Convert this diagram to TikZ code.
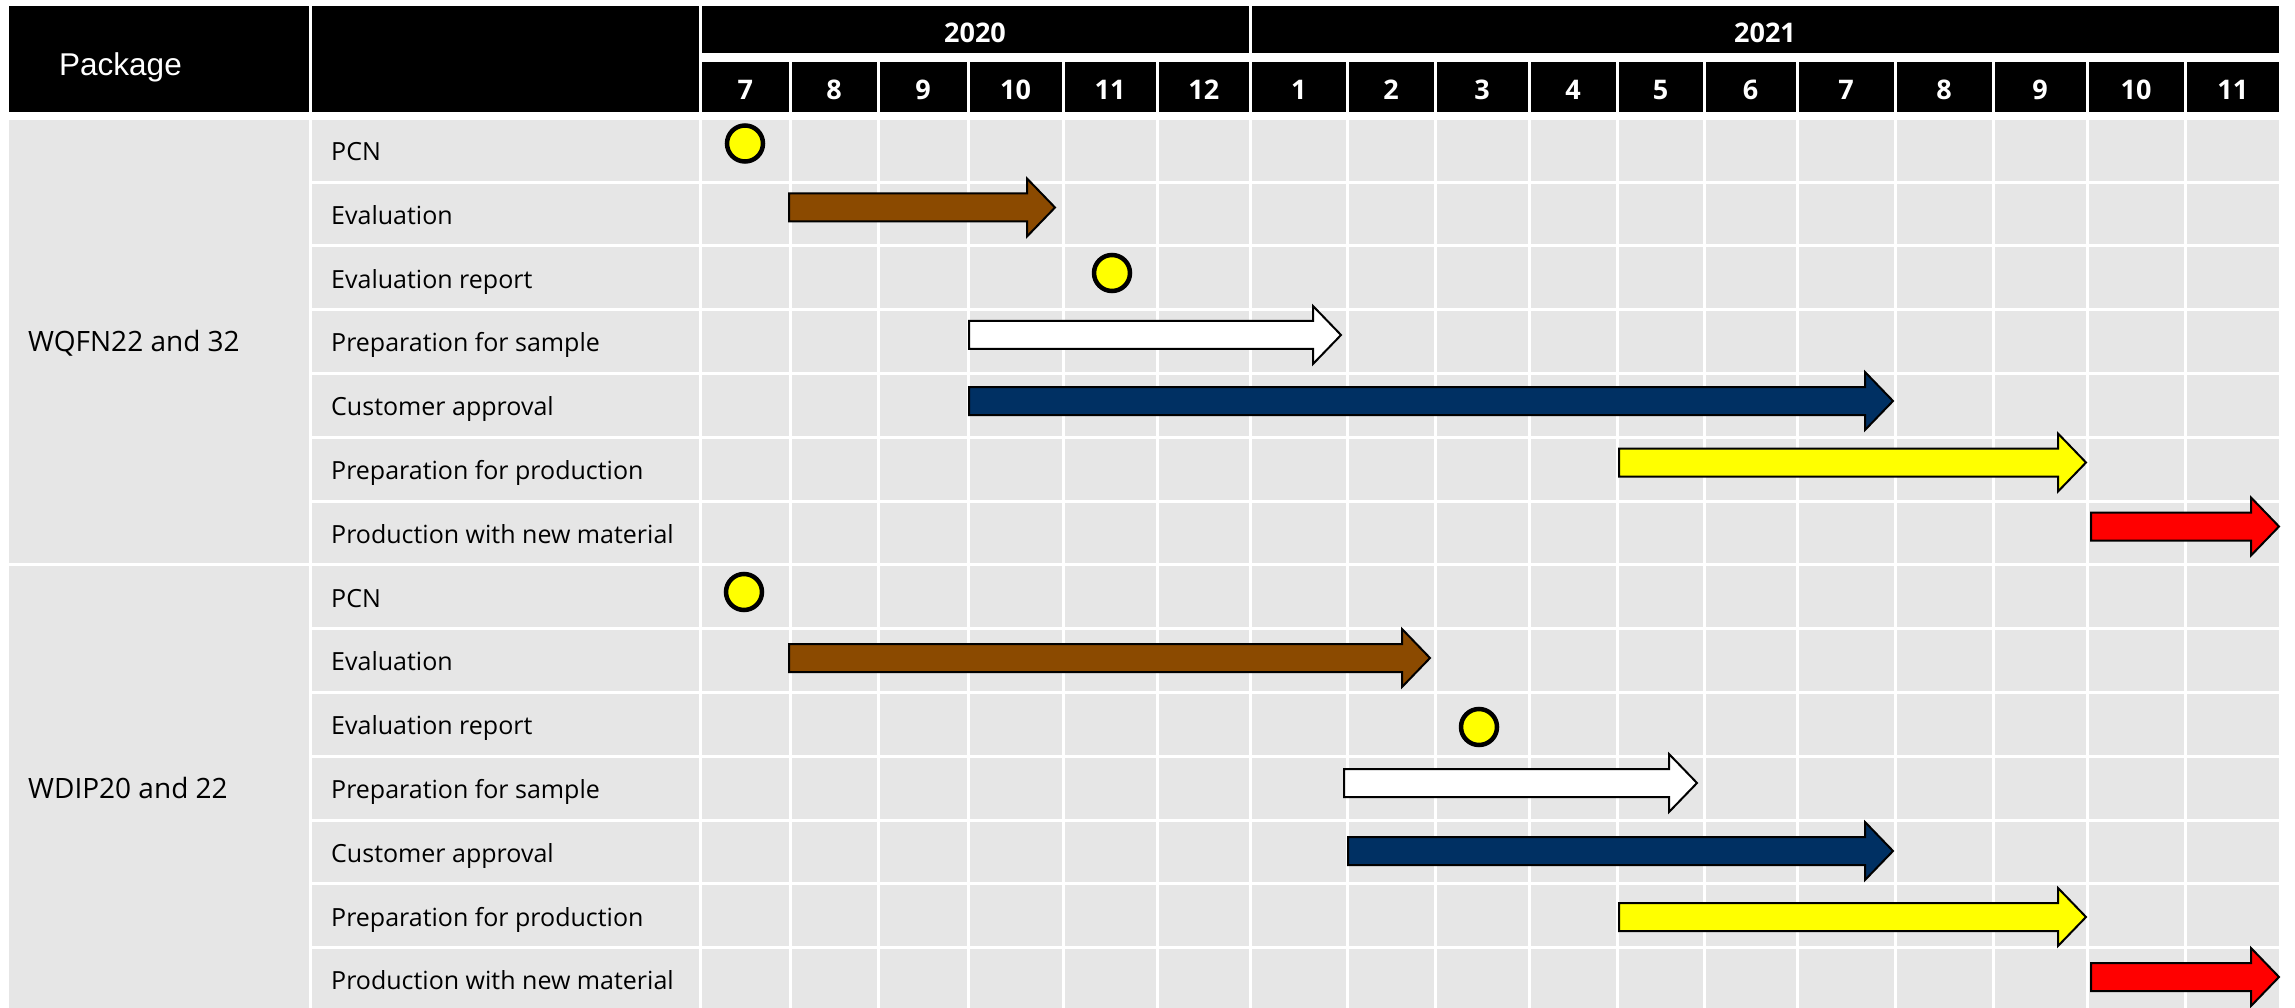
\documentclass[tikz,border=0pt]{standalone}
\usepackage{fontspec}
\setmainfont{Open Sans}
\newfontfamily\arialf{Liberation Sans}
\definecolor{cellgray}{HTML}{E6E6E6}
\definecolor{evbrown}{HTML}{8B4A00}
\definecolor{navyblue}{HTML}{003063}
\definecolor{msyellow}{HTML}{FFFF00}
\newcommand\ganttarrow[4]{\draw[arrowbox,fill=#4] (#1,#3-14) -- (#2-28,#3-14) -- (#2-28,#3-29) -- (#2,#3) -- (#2-28,#3+29) -- (#2-28,#3+14) -- (#1,#3+14) -- cycle;}
\begin{document}
\begin{tikzpicture}[x=1pt,y=-1pt,
  hdr/.style={fill=black},
  hdrtext/.style={text=white,font=\bfseries\fontsize{27}{30}\selectfont,inner sep=0},
  tasktext/.style={anchor=base west,font=\fontsize{25}{28}\selectfont,inner sep=0},
  pkgtext/.style={anchor=base west,font=\fontsize{28}{30}\selectfont,inner sep=0},
  milestone/.style={circle,fill=msyellow,draw=black,line width=4.5pt,minimum size=36pt,inner sep=0},
  arrowbox/.style={draw=black,line width=2pt,line join=miter},
  gridline/.style={white,line width=3pt}]
\useasboundingbox (0,0) rectangle (2295,1008);
\fill[white] (0,0) rectangle (2295,1008);
% header
\fill[hdr] (9,6) rectangle (309,112);
\node[anchor=west,text=white,font=\arialf\fontsize{31.5}{34}\selectfont,inner sep=0] (pkg) at (59,67) {Package};
\fill[hdr] (312,6) rectangle (699,112);
\fill[hdr] (702,6) rectangle (1249,53);
\node[hdrtext] (y2020) at (975,33) {2020};
\fill[hdr] (1252,6) rectangle (2279,53);
\node[hdrtext] (y2021) at (1765,33) {2021};
\foreach \a/\b/\m [count=\i] in {700.5/790/7,790/878/8,878/968/9,968/1063/10,1063/1157/11,1157/1250.5/12,1250.5/1347/1,1347/1435/2,1435/1529/3,1529/1617/4,1617/1704/5,1704/1797/6,1797/1895/7,1895/1993/8,1993/2087/9,2087/2185/10,2185/2280.5/11}{
  \fill[hdr] (\a+1.5,62) rectangle (\b-1.5,112);
  \node[hdrtext] (mon\i) at ({(\a+\b)/2},90) {\m};
}
% body
\fill[cellgray] (9,120) rectangle (2279,1008);
\foreach \g in {310.5,700.5,790,878,968,1063,1157,1250.5,1347,1435,1529,1617,1704,1797,1895,1993,2087,2185}
  \draw[gridline] (\g,120) -- (\g,1008);
\foreach \r in {1,...,6,8,9,...,13}
  \draw[gridline] (310.5,{120+\r*63.8-1.65}) -- (2279,{120+\r*63.8-1.65});
\draw[gridline] (9,{120+7*63.8-1.65}) -- (2279,{120+7*63.8-1.65});
% package labels
\node[pkgtext] (g1) at (28,352) {WQFN22 and 32};
\node[pkgtext] (g2) at (28,798) {WDIP20 and 22};
% task labels
\foreach \t [count=\i from 0] in {PCN,Evaluation,Evaluation report,Preparation for sample,Customer approval,Preparation for production,Production with new material,PCN,Evaluation,Evaluation report,Preparation for sample,Customer approval,Preparation for production,Production with new material}
  \node[tasktext] (task\i) at (331,{120+\i*63.8+40.5}) {\t};
% milestones
\node[milestone] (ms1) at (745,143.5) {};
\node[milestone] (ms2) at (1112,273) {};
\node[milestone] (ms3) at (744,592) {};
\node[milestone] (ms4) at (1479,727) {};
% arrows group 1
\ganttarrow{789}{1055}{207.5}{evbrown}
\ganttarrow{969}{1341}{335}{white}
\ganttarrow{969}{1893}{401}{navyblue}
\ganttarrow{1619}{2086}{462.5}{msyellow}
\ganttarrow{2091}{2279}{526.5}{red}
% arrows group 2
\ganttarrow{789}{1430}{658}{evbrown}
\ganttarrow{1344}{1697}{783}{white}
\ganttarrow{1348}{1893}{851}{navyblue}
\ganttarrow{1619}{2086}{917}{msyellow}
\ganttarrow{2091}{2279}{977}{red}
\end{tikzpicture}
\end{document}
